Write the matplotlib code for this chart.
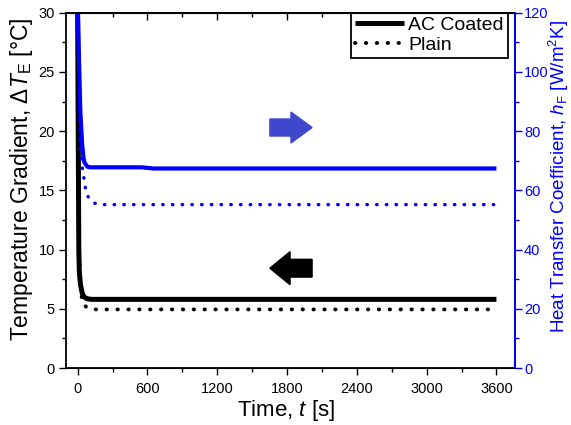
import numpy as np
import matplotlib
matplotlib.use("Agg")
import matplotlib.pyplot as plt
from matplotlib.patches import FancyArrow
from matplotlib.ticker import MultipleLocator

plt.rcParams['font.family'] = ['Liberation Sans', 'DejaVu Sans']
plt.rcParams['mathtext.fontset'] = 'custom'
plt.rcParams['mathtext.rm'] = 'Liberation Sans'
plt.rcParams['mathtext.it'] = 'Liberation Sans:italic'

# AC coated, temperature gradient [C]
t_dT_ac = [0, 5, 10, 15, 25, 40, 55, 84, 120, 600, 1200, 1800, 2400, 3000, 3600]
dT_ac = [30, 20, 10, 8.0, 7.0, 6.3, 6.0, 5.85, 5.8, 5.8, 5.8, 5.8, 5.8, 5.8, 5.8]
# plain, temperature gradient [C]
t_dT_plain = [0, 5, 10, 20, 30, 38, 55, 72, 109, 150, 600, 1200, 1800, 2400, 3000, 3600]
dT_plain = [29, 18, 11, 8, 6.6, 5.6, 5.35, 5.18, 4.96, 4.95, 4.95, 4.95, 4.95, 4.95, 4.95, 4.95]
# AC coated, heat transfer coefficient [W/m2K]
t_h_ac = [0, 3, 23, 38, 50, 58, 84, 110, 550, 650, 1200, 1800, 2400, 3000, 3600]
h_ac = [120, 118, 87, 76, 71, 69.5, 68, 67.8, 67.8, 67.4, 67.4, 67.4, 67.4, 67.4, 67.4]
# plain, heat transfer coefficient [W/m2K]
t_h_plain = [0, 3, 15, 23, 32, 52, 66, 81, 109, 144, 195, 600, 1200, 1800, 2400, 3000, 3600]
h_plain = [120, 117, 92, 73, 69.7, 64.6, 61, 58.4, 56.8, 55.7, 55.2, 55.2, 55.2, 55.2, 55.2, 55.2, 55.2]

xticks = [0, 600, 1200, 1800, 2400, 3000, 3600]
blue = '#0000FF'
dots = (0, (0.1, 2.7))

fig = plt.figure(figsize=(5.71, 4.25), dpi=100)
ax = fig.add_axes([0.1156, 0.134, 0.7864, 0.836])
ax2 = ax.twinx()

ax.plot(t_dT_ac, dT_ac, color='black', lw=3.6, label='AC Coated', solid_capstyle='butt')
ax.plot(t_dT_plain, dT_plain, color='black', lw=2.8, ls=dots, dash_capstyle='round', label='Plain')
ax2.plot(t_h_plain, h_plain, color=blue, lw=2.5, ls=dots, dash_capstyle='round')
ax2.plot(t_h_ac, h_ac, color=blue, lw=3.0, solid_capstyle='butt')

ax.set_xlim(-100, 3760)
ax.set_ylim(0, 30)
ax2.set_ylim(0, 120)
ax.set_xticks(xticks)
ax.xaxis.set_minor_locator(MultipleLocator(300))
ax.yaxis.set_major_locator(MultipleLocator(5))
ax.yaxis.set_minor_locator(MultipleLocator(2.5))
ax2.yaxis.set_major_locator(MultipleLocator(20))
ax2.yaxis.set_minor_locator(MultipleLocator(10))

ax.tick_params(axis='both', which='major', direction='out', length=5, width=1, labelsize=10.5, pad=3)
ax.tick_params(axis='x', which='major', pad=5)
ax.tick_params(axis='both', which='minor', direction='out', length=3, width=1)
ax2.tick_params(axis='y', which='major', direction='out', length=5, width=1, labelsize=10.5,
                colors=blue, pad=1.5)
ax2.tick_params(axis='y', which='minor', direction='out', length=3, width=1, colors=blue)

top = ax.secondary_xaxis('top')
top.set_xticks(xticks)
top.xaxis.set_minor_locator(MultipleLocator(300))
top.tick_params(which='major', direction='in', length=5, width=1, labeltop=False)
top.tick_params(which='minor', direction='in', length=3, width=1)
top.spines['top'].set_linewidth(1.3)

for s in ax.spines.values():
    s.set_linewidth(1.3)
ax2.spines['right'].set_color(blue)
ax2.spines['right'].set_linewidth(1.3)
ax2.spines['left'].set_visible(False)

ax.set_xlabel('Time, $t$ [s]', fontsize=16)
ax.set_ylabel(r'Temperature Gradient, $\Delta T_\mathrm{E}$ [°C]', fontsize=16.5, va='center')
ax2.set_ylabel(r'Heat Transfer Coefficient, $h_\mathrm{F}$ [W/m$^\mathrm{2}$K]', fontsize=13.5,
               color=blue, va='center')
ax.xaxis.set_label_coords(0.49, -0.085)
ax.yaxis.set_label_coords(-0.100, 0.53)
ax2.yaxis.set_label_coords(1.097, 0.54)

leg = ax.legend(loc='upper right', bbox_to_anchor=(0.984, 1.0), borderaxespad=0,
                fontsize=14, frameon=True, fancybox=False, edgecolor='black',
                handlelength=2.5, handletextpad=0.25, labelspacing=0.1, borderpad=0.2)
leg.get_frame().set_linewidth(1.3)
leg.get_frame().set_alpha(None)

# direction arrows
ax.add_patch(FancyArrow(0.454, 0.677, 0.094, 0, width=0.048, head_width=0.087,
                        head_length=0.047, length_includes_head=True,
                        color='#3F48CC', transform=ax.transAxes, zorder=5))
ax.add_patch(FancyArrow(0.548, 0.281, -0.094, 0, width=0.05, head_width=0.093,
                        head_length=0.045, length_includes_head=True,
                        color='black', transform=ax.transAxes, zorder=5))

fig.savefig('out.png', dpi=100)
